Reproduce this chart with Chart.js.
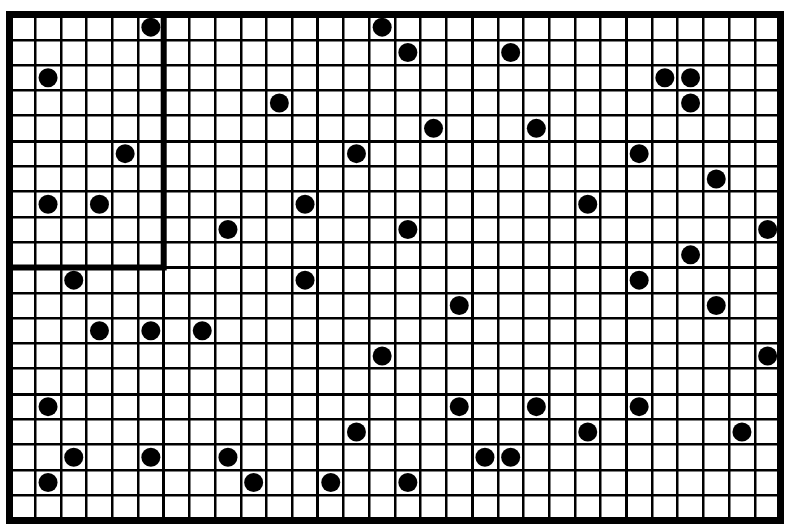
<!DOCTYPE html>
<html><head><meta charset="utf-8">
<script src="https://cdn.jsdelivr.net/npm/chart.js@4.4.1/dist/chart.umd.min.js"></script>
<style>html,body{margin:0;padding:0;background:#fff;} #wrap{width:790px;height:530px;position:relative;}</style>
</head><body><div id="wrap"><canvas id="c"></canvas></div>
<script>
// Grid size (cells)
const gridColumns = 30;
const gridRows = 20;
// Highlighted block in the top-left corner (cells)
const boxColumns = 6;
const boxRows = 10;
// Heavier grid line every N cells
const majorColumnStep = 6;
const majorRowStep = 5;

// Dots: cell column index and cell row index (row 0 = top)
const dotColumns = [5,14,15,19,1,25,26,10,26,16,20,4,13,24,27,1,3,11,22,8,15,29,26,2,11,24,17,27,3,5,7,14,29,1,17,20,24,13,22,28,2,5,8,18,19,1,9,12,15];
const dotRows    = [0,0,1,1,2,2,2,3,3,4,4,5,5,5,6,7,7,7,7,8,8,8,9,10,10,10,11,11,12,12,12,13,13,15,15,15,15,16,16,16,17,17,17,17,17,18,18,18,18];

const dots = dotColumns.map((c, i) => ({ x: c + 0.5, y: dotRows[i] + 0.5 }));
const frame = [{x:0,y:0},{x:gridColumns,y:0},{x:gridColumns,y:gridRows},{x:0,y:gridRows},{x:0,y:0},{x:gridColumns,y:0}];
const box = [{x:0,y:boxRows},{x:boxColumns,y:boxRows},{x:boxColumns,y:0}];

function gridWidth(step) {
  return ctx => {
    const v = ctx.tick ? ctx.tick.value : 0;
    return (Math.round(v) % step === 0) ? 3 : 2.5;
  };
}

new Chart(document.getElementById('c'), {
  type: 'scatter',
  data: {
    datasets: [
      { data: dots, pointRadius: 9.5, pointHoverRadius: 9.5, backgroundColor: '#000', borderWidth: 0, showLine: false, order: 0 },
      { data: box, showLine: true, pointRadius: 0, borderColor: '#000', borderWidth: 6, borderJoinStyle: 'miter', borderCapStyle: 'butt', clip: false, order: 1 },
      { data: frame, showLine: true, pointRadius: 0, borderColor: '#000', borderWidth: 7, borderJoinStyle: 'miter', borderCapStyle: 'square', clip: false, order: 2 }
    ]
  },
  options: {
    responsive: true,
    maintainAspectRatio: false,
    animation: false,
    events: [],
    layout: { padding: { left: 9.5, right: 9, top: 14.5, bottom: 5 } },
    plugins: { legend: { display: false }, tooltip: { enabled: false } },
    scales: {
      x: {
        type: 'linear', min: 0, max: gridColumns,
        ticks: { stepSize: 1, display: false, autoSkip: false },
        grid: { color: '#000', lineWidth: gridWidth(majorColumnStep), drawTicks: false, tickLength: 0 },
        border: { display: false }
      },
      y: {
        type: 'linear', min: 0, max: gridRows, reverse: true,
        ticks: { stepSize: 1, display: false, autoSkip: false },
        grid: { color: '#000', lineWidth: gridWidth(majorRowStep), drawTicks: false, tickLength: 0 },
        border: { display: false }
      }
    }
  }
});
</script>
</body></html>
